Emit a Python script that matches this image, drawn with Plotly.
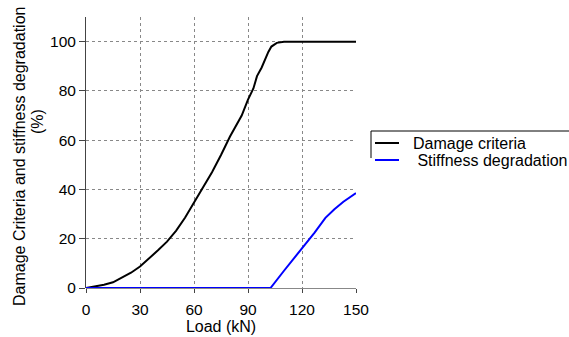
import plotly.graph_objects as go

load_damage = [0, 5, 10, 15, 20, 25, 30, 35, 40, 45, 50, 55, 60, 65, 70, 75, 80, 86.5, 90, 93, 95, 97.6, 100, 101.3, 103, 106, 110, 120, 130, 140, 150]
damage = [0, 0.5, 1.3, 2.3, 4.2, 6.2, 8.7, 11.8, 15.3, 18.8, 23.2, 28.5, 34.5, 40.5, 47, 54, 61.5, 70, 76.5, 81, 86, 89.5, 94, 95.8, 98, 99.5, 100, 100, 100, 100, 100]

load_stiff = [0, 102.5, 110, 120, 127, 133, 138, 143, 150]
stiffness = [0, 0, 7, 16, 22.5, 28.5, 32, 35, 38.5]

series_names = ["Damage criteria", " Stiffness degradation"]
series_colors = ["black", "#0000ff"]

x_ticks = [0, 30, 60, 90, 120, 150]
y_ticks = [0, 20, 40, 60, 80, 100]

font = "Liberation Sans, Arial, sans-serif"
FS = 15.5
FT = 16

# plot area in pixels
L, R, T, B = 86, 356, 17, 288
W, H = 569, 337


def px_x(p):
    return (p - L) / (R - L)


def px_y(p):
    return (B - p) / (B - T)


fig = go.Figure()
fig.add_trace(go.Scatter(x=load_damage, y=damage, mode="lines", name=series_names[0],
                         line=dict(color=series_colors[0], width=2), showlegend=False))
fig.add_trace(go.Scatter(x=load_stiff, y=stiffness, mode="lines", name=series_names[1],
                         line=dict(color=series_colors[1], width=2), showlegend=False))

fig.update_layout(
    width=W, height=H,
    margin=dict(l=L, r=W - R, t=T, b=H - B),
    paper_bgcolor="white", plot_bgcolor="white",
    font=dict(family=font, size=FS, color="black"),
    showlegend=False,
)
fig.update_xaxes(range=[0, 150], tickvals=x_ticks, showgrid=True, gridcolor="#888888",
                 griddash="dot", gridwidth=1, zeroline=False, showline=False,
                 ticks="outside", ticklen=4, tickcolor="#444444", ticklabelstandoff=3,
                 automargin=False,
                 title=dict(text="Load (kN)", standoff=3, font=dict(size=FT)),
                 tickfont=dict(size=FS))
fig.update_yaxes(range=[0, 110], tickvals=y_ticks, showgrid=True, gridcolor="#888888",
                 griddash="dot", gridwidth=1, zeroline=True, zerolinecolor="#888888",
                 zerolinewidth=1, showline=True, linecolor="#444444", linewidth=1,
                 ticks="outside", ticklen=6, tickcolor="#444444", automargin=False,
                 tickfont=dict(size=FS))

# y-axis title (two lines)
fig.add_annotation(text="Damage Criteria and stiffness degradation", textangle=-90,
                   xref="paper", yref="paper", x=px_x(19), y=px_y(157),
                   showarrow=False, font=dict(size=FT), xanchor="center", yanchor="middle")
fig.add_annotation(text="(%)", textangle=-90,
                   xref="paper", yref="paper", x=px_x(38), y=px_y(122),
                   showarrow=False, font=dict(size=FT), xanchor="center", yanchor="middle")

# legend box (top and left border)
fig.add_shape(type="line", xref="paper", yref="paper", x0=px_x(371), x1=px_x(575),
              y0=px_y(131), y1=px_y(131), line=dict(color="black", width=1))
fig.add_shape(type="line", xref="paper", yref="paper", x0=px_x(371), x1=px_x(371),
              y0=px_y(131), y1=px_y(158), line=dict(color="black", width=1))

legend_rows = [143, 160]
for name, color, row in zip(series_names, series_colors, legend_rows):
    fig.add_shape(type="line", xref="paper", yref="paper", x0=px_x(375), x1=px_x(399),
                  y0=px_y(row), y1=px_y(row), line=dict(color=color, width=2))
    fig.add_annotation(text=name.replace(" ", "&nbsp;", 1) if name.startswith(" ") else name,
                       xref="paper", yref="paper", x=px_x(411), y=px_y(row),
                       showarrow=False, font=dict(size=FT), xanchor="left", yanchor="middle")

fig.write_html("out.html", config={"displayModeBar": False},
               post_script="document.body.style.margin='0';document.body.style.overflow='hidden';")
